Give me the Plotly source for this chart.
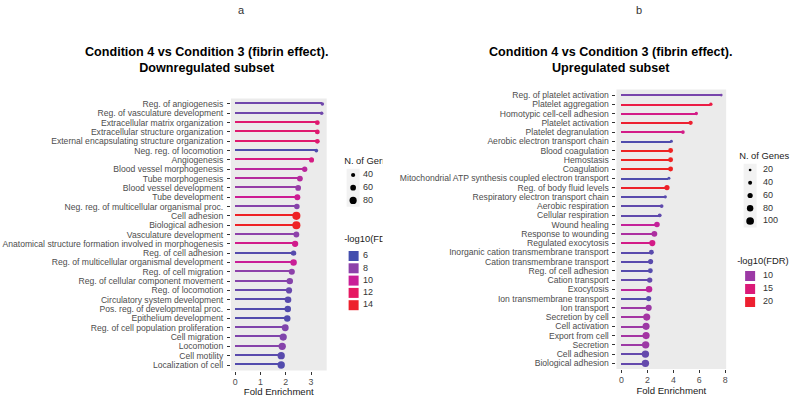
import plotly.graph_objects as go

W, H = 800, 397

# ---------------- data ----------------
a_terms = [
    "Reg. of angiogenesis", "Reg. of vasculature development", "Extracellular matrix organization",
    "Extracellular structure organization", "External encapsulating structure organization",
    "Neg. reg. of locomotion", "Angiogenesis", "Blood vessel morphogenesis", "Tube morphogenesis",
    "Blood vessel development", "Tube development", "Neg. reg. of multicellular organismal proc.",
    "Cell adhesion", "Biological adhesion", "Vasculature development",
    "Anatomical structure formation involved in morphogenesis", "Reg. of cell adhesion",
    "Reg. of multicellular organismal development", "Reg. of cell migration",
    "Reg. of cellular component movement", "Reg. of locomotion", "Circulatory system development",
    "Pos. reg. of developmental proc.", "Epithelium development",
    "Reg. of cell population proliferation", "Cell migration", "Locomotion", "Cell motility",
    "Localization of cell",
]
a_fold = [3.45, 3.42, 3.25, 3.25, 3.25, 3.21, 3.02, 2.75, 2.56, 2.49, 2.46, 2.44, 2.42, 2.42, 2.42,
          2.37, 2.31, 2.31, 2.24, 2.16, 2.13, 2.09, 2.08, 2.06, 1.98, 1.90, 1.86, 1.82, 1.82]
a_genes = [30, 32, 48, 48, 48, 33, 52, 55, 62, 60, 63, 58, 92, 92, 62,
           68, 55, 70, 65, 70, 66, 72, 70, 70, 76, 80, 82, 82, 82]
a_fdr = [7.2, 7.2, 11.5, 11.5, 11.5, 6.3, 10.8, 9.5, 9.3, 8.3, 10.2, 7.8, 14.3, 14.3, 8.0,
         10.5, 6.5, 10.0, 8.0, 7.8, 7.0, 6.6, 6.4, 6.4, 7.6, 7.6, 7.8, 6.6, 6.4]
a_xticks = [0, 1, 2, 3]
a_size_legend = [40, 60, 80]
a_fdr_legend = [6, 8, 10, 12, 14]

b_terms = [
    "Reg. of platelet activation", "Platelet aggregation", "Homotypic cell-cell adhesion",
    "Platelet activation", "Platelet degranulation", "Aerobic electron transport chain",
    "Blood coagulation", "Hemostasis", "Coagulation",
    "Mitochondrial ATP synthesis coupled electron transport", "Reg. of body fluid levels",
    "Respiratory electron transport chain", "Aerobic respiration", "Cellular respiration",
    "Wound healing", "Response to wounding", "Regulated exocytosis",
    "Inorganic cation transmembrane transport", "Cation transmembrane transport",
    "Reg. of cell adhesion", "Cation transport", "Exocytosis", "Ion transmembrane transport",
    "Ion transport", "Secretion by cell", "Cell activation", "Export from cell", "Secretion",
    "Cell adhesion", "Biological adhesion",
]
b_fold = [7.69, 6.89, 5.77, 5.33, 4.74, 3.85, 3.79, 3.79, 3.79, 3.66, 3.51, 3.38, 3.10, 2.95,
          2.74, 2.54, 2.38, 2.31, 2.25, 2.23, 2.18, 2.13, 2.10, 2.10, 1.95, 1.90, 1.90, 1.87,
          1.85, 1.85]
b_genes = [20, 30, 30, 45, 35, 25, 55, 55, 55, 25, 60, 28, 35, 38, 65, 70, 75, 55, 58, 55,
           62, 80, 58, 75, 90, 90, 92, 95, 95, 95]
b_fdr = [8.0, 18.5, 14.0, 20.0, 14.0, 6.0, 21.0, 21.0, 21.0, 6.0, 20.5, 6.5, 6.8, 6.8, 12.5,
         11.0, 14.0, 6.5, 6.5, 6.3, 7.0, 12.0, 6.3, 10.0, 10.5, 10.0, 10.5, 10.0, 7.0, 7.0]
b_xticks = [0, 2, 4, 6, 8]
b_size_legend = [20, 40, 60, 80, 100]
b_fdr_legend = [10, 15, 20]

# ---------------- style ----------------
COLORSCALE = [[0.0, "#3B4FAE"], [0.25, "#8C42AA"], [0.5, "#CC1C96"],
              [0.75, "#E9185A"], [1.0, "#EE2222"]]
A_CMIN, A_CMAX = 5.8, 14.4
B_CMIN, B_CMAX = 5.0, 21.0
FONT = "Liberation Sans, Arial, Helvetica, sans-serif"
TITLE_FONT = "Liberation Sans Narrow, Arial Narrow, Liberation Sans, Arial, sans-serif"
TXT = "#4D4D4D"
PANEL_BG = "#EBEBEB"


def a_size(n):
    return 1.2 + 0.075 * n


def b_size(n):
    return 1.5 + 0.062 * n


fig = go.Figure()
shapes = []


def add_panel(k, terms, fold, genes, fdr, cmin, cmax, size_fn, xrange, xticks,
              xdom_px, ydom_px):
    xa = "x" if k == 1 else f"x{k}"
    ya = "y" if k == 1 else f"y{k}"
    fig.add_trace(go.Bar(
        y=terms, x=fold, base=0, orientation="h", width=0.14,
        marker=dict(color=fdr, colorscale=COLORSCALE, cmin=cmin, cmax=cmax, line_width=0),
        xaxis=xa, yaxis=ya, showlegend=False, hoverinfo="skip"))
    fig.add_trace(go.Scatter(
        y=terms, x=fold, mode="markers",
        marker=dict(size=[size_fn(g) for g in genes], color=fdr, colorscale=COLORSCALE,
                    cmin=cmin, cmax=cmax, line_width=0, opacity=1),
        xaxis=xa, yaxis=ya, showlegend=False, cliponaxis=False))
    n = len(terms)
    xkey = "xaxis" if k == 1 else f"xaxis{k}"
    ykey = "yaxis" if k == 1 else f"yaxis{k}"
    fig.update_layout({
        xkey: dict(domain=[xdom_px[0] / W, xdom_px[1] / W], range=xrange, anchor=ya,
                   tickmode="array", tickvals=xticks, ticktext=[str(t) for t in xticks],
                   ticks="outside", ticklen=3, tickcolor="#333333", tickwidth=1,
                   tickfont=dict(family=FONT, size=8.8, color=TXT),
                   showgrid=False, zeroline=False, showline=False,
                   title=dict(text="Fold Enrichment", standoff=0,
                              font=dict(family=FONT, size=9.6, color="#1A1A1A"))),
        ykey: dict(domain=[1 - ydom_px[1] / H, 1 - ydom_px[0] / H], anchor=xa,
                   type="category", categoryorder="array", categoryarray=terms,
                   tickmode="array", tickvals=terms, ticktext=terms,
                   range=[n - 1 + 0.6, -0.6], ticklabelstandoff=2,
                   ticks="outside", ticklen=3, tickcolor="#333333", tickwidth=1,
                   tickfont=dict(family=FONT, size=8.6, color=TXT),
                   showgrid=False, zeroline=False, showline=False),
    })
    shapes.append(dict(type="rect", xref=f"{xa} domain", yref=f"{ya} domain",
                       x0=0, x1=1, y0=0, y1=1, fillcolor=PANEL_BG, line_width=0,
                       layer="below"))


add_panel(1, a_terms, a_fold, a_genes, a_fdr, A_CMIN, A_CMAX, a_size,
          [-0.17, 3.62], a_xticks, (231.5, 327.5), (98.4, 370.6))
add_panel(2, b_terms, b_fold, b_genes, b_fdr, B_CMIN, B_CMAX, b_size,
          [-0.38, 8.07], b_xticks, (618.0, 728.0), (89.5, 368.9))


def add_legend(k, x_left, x_right, key_cx, text_x, first_y, spacing, title_x, title_y,
               title, labels, sizes, colors, cmin, cmax, symbol, key_bg):
    n = len(labels)
    top = title_y - 9
    bottom = first_y + (n - 1) * spacing + spacing / 2 + 2
    xa, ya = f"x{k}", f"y{k}"
    fig.update_layout({
        f"xaxis{k}": dict(domain=[x_left / W, x_right / W], range=[0, x_right - x_left],
                          visible=False, anchor=ya, fixedrange=True),
        f"yaxis{k}": dict(domain=[1 - bottom / H, 1 - top / H],
                          range=[bottom - first_y, top - first_y],
                          visible=False, anchor=xa, fixedrange=True),
    })
    ys = [i * spacing for i in range(n)]
    if key_bg:
        shapes.append(dict(type="rect", xref=xa, yref=ya,
                           x0=key_cx - x_left - 6.5, x1=key_cx - x_left + 6.5,
                           y0=-spacing / 2, y1=(n - 0.5) * spacing,
                           fillcolor="#F2F2F2", line_width=0, layer="below"))
    fig.add_trace(go.Scatter(
        x=[key_cx - x_left] * n, y=ys, mode="markers",
        marker=dict(size=sizes, color=colors, colorscale=COLORSCALE, cmin=cmin, cmax=cmax,
                    symbol=symbol, line_width=0, opacity=1),
        xaxis=xa, yaxis=ya, showlegend=False, hoverinfo="skip", cliponaxis=False))
    fig.add_trace(go.Scatter(
        x=[text_x - x_left] * n, y=ys, mode="text", text=[str(l) for l in labels],
        textposition="middle right", textfont=dict(family=FONT, size=9, color="#333333"),
        xaxis=xa, yaxis=ya, showlegend=False, hoverinfo="skip", cliponaxis=False))
    fig.add_trace(go.Scatter(
        x=[title_x - x_left], y=[title_y - first_y], mode="text", text=[title],
        textposition="middle right", textfont=dict(family=FONT, size=9.4, color="#1A1A1A"),
        xaxis=xa, yaxis=ya, showlegend=False, hoverinfo="skip", cliponaxis=True))


# panel a legends (clipped at the right edge of the panel image)
add_legend(3, 340, 383.5, 354, 364, 175, 12.7, 345, 162, "N. of Genes",
           a_size_legend, [a_size(v) for v in a_size_legend], ["#000000"] * 3,
           None, None, "circle", True)
add_legend(4, 340, 383.5, 354.5, 364, 256, 12.3, 345, 240, "-log10(FDR)",
           a_fdr_legend, [10] * len(a_fdr_legend), a_fdr_legend, A_CMIN, A_CMAX,
           "square", False)
# panel b legends
add_legend(5, 732, 800, 752, 765, 170, 12.75, 741, 157, "N. of Genes",
           b_size_legend, [b_size(v) for v in b_size_legend], ["#000000"] * 5,
           None, None, "circle", True)
add_legend(6, 732, 800, 752, 765, 276, 13, 739, 262, "-log10(FDR)",
           b_fdr_legend, [10] * len(b_fdr_legend), b_fdr_legend, B_CMIN, B_CMAX,
           "square", False)

annotations = [
    dict(text="a", x=242 / W, y=1 - 10 / H, xref="paper", yref="paper", showarrow=False,
         font=dict(family=FONT, size=11, color="#333333"), xanchor="center", yanchor="middle"),
    dict(text="b", x=641 / W, y=1 - 10 / H, xref="paper", yref="paper", showarrow=False,
         font=dict(family=FONT, size=11, color="#333333"), xanchor="center", yanchor="middle"),
    dict(text="<b>Condition 4 vs Condition 3 (fibrin effect).</b><br><b>Downregulated subset</b>",
         x=207 / W, y=1 - 60 / H, xref="paper", yref="paper", showarrow=False,
         font=dict(family=TITLE_FONT, size=12.6, color="#000000"), xanchor="center",
         yanchor="middle", align="center"),
    dict(text="<b>Condition 4 vs Condition 3 (fibrin effect).</b><br><b>Upregulated subset</b>",
         x=612 / W, y=1 - 60 / H, xref="paper", yref="paper", showarrow=False,
         font=dict(family=TITLE_FONT, size=12.6, color="#000000"), xanchor="center",
         yanchor="middle", align="center"),
]

fig.update_layout(
    width=W, height=H, margin=dict(l=0, r=0, t=0, b=0),
    paper_bgcolor="white", plot_bgcolor="rgba(0,0,0,0)",
    showlegend=False, shapes=shapes, annotations=annotations,
    font=dict(family=FONT), bargap=0,
)

fig.write_html("out.html", config={"displayModeBar": False},
               post_script="document.body.style.margin='0';")
